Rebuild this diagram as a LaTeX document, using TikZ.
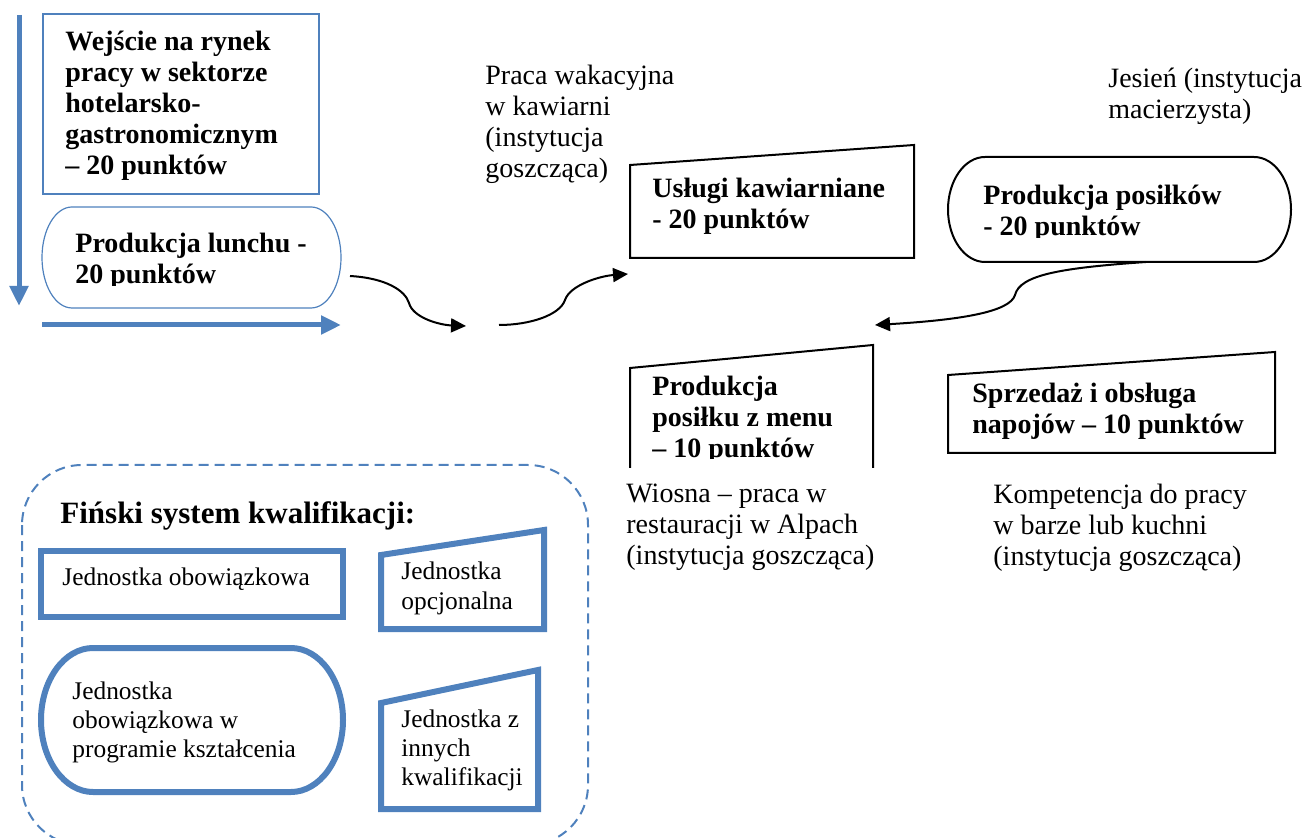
\documentclass[tikz,border=0pt]{standalone}
\usepackage{fontspec}
\setmainfont{Liberation Serif}
\usetikzlibrary{arrows.meta,positioning}
\definecolor{unitblue}{HTML}{4F81BD}

\begin{document}
\begin{tikzpicture}[x=0.5pt,y=-0.5pt,>={Triangle[length=7.5pt,width=7pt]},
			txt/.style = {anchor=north west, align=left, inner sep=0pt, font=\fontsize{14}{15.5}\selectfont},
			hdr/.style = {txt, font=\fontsize{14}{15.5}\selectfont\bfseries},
			unittxt/.style = {txt, font=\fontsize{12.7}{14.5}\selectfont},
			link/.style = {->, line width=1pt},
			flow/.style = {-{Triangle[length=10pt,width=9pt]}, draw=unitblue, line width=2.5pt},
			quad/.style = {draw, line width=1pt, line join=miter},
			unitquad/.style = {draw=unitblue, line width=3pt, line join=miter}
			]
			\useasboundingbox (0,0) rectangle (1304,838);
			% upper left: entry into the labour market
			\coordinate (vtop) at (19,15);
			\coordinate (vbot) at (19,306);
			\coordinate (hleft) at (42,325);
			\coordinate (hright) at (341,325);
			\draw[flow] (vtop) -- (vbot);
			\draw[flow] (hleft) -- (hright);
			\node [draw=unitblue, line width=0.6pt, minimum width=138pt, minimum height=90pt, inner sep=0pt] (entry) at (181,104) {};
			\node [hdr] (entrytext) at (65,31) {Wejście na rynek\\pracy w sektorze\\hotelarsko-\\gastronomicznym\\– 20 punktów};
			\draw[unitblue, line width=0.6pt] (72,207) -- (311,207) arc[start angle=90, end angle=-90, x radius=15pt, y radius=25.25pt]
				-- (72,308) arc[start angle=270, end angle=90, x radius=15pt, y radius=25.25pt] -- cycle;
			\begin{scope}
				\clip (0,0) rectangle (1304,286);
				\node [hdr] (lunch) at (75,233) {Produkcja lunchu -\\20 punktów};
			\end{scope}
			% cafe
			\node [txt] (cafenote) at (485,65) {Praca wakacyjna\\w kawiarni\\(instytucja\\goszcząca)};
			\draw[quad] (630,165) -- (914,145) -- (914,258) -- (630,258) -- cycle;
			\node [hdr] (cafe) at (652,178) {Usługi kawiarniane\\- 20 punktów};
			% autumn
			\node [txt] (autumnnote) at (1108,68) {Jesień (instytucja\\macierzysta)};
			\draw[line width=1pt] (985,157) -- (1254,157) arc[start angle=90, end angle=-90, x radius=18.5pt, y radius=26.25pt]
				-- (985,262) arc[start angle=270, end angle=90, x radius=18.5pt, y radius=26.25pt] -- cycle;
			\begin{scope}
				\clip (0,0) rectangle (1304,238);
				\node [hdr] (meals) at (983,185) {Produkcja posiłków\\- 20 punktów};
			\end{scope}
			% spring
			\draw[quad] (630,468) -- (630,368) -- (873,345) -- (873,468);
			\begin{scope}
				\clip (0,0) rectangle (1304,459);
				\node [hdr] (menu) at (652,376) {Produkcja\\posiłku z menu\\– 10 punktów};
			\end{scope}
			\draw[quad] (948,375) -- (1275,352) -- (1275,453) -- (948,453) -- cycle;
			\node [hdr] (drinks) at (972,383) {Sprzedaż i obsługa\\napojów – 10 punktów};
			\node [txt] (springnote) at (626,484) {Wiosna – praca w\\restauracji w Alpach\\(instytucja goszcząca)};
			\node [txt] (barnote) at (993,484) {Kompetencja do pracy\\w barze lub kuchni\\(instytucja goszcząca)};
			% connectors
			\coordinate (c1a) at (350,276);
			\coordinate (c1b) at (466,326);
			\coordinate (c2a) at (499,325);
			\coordinate (c2b) at (628,274);
			\coordinate (c3a) at (1146,262);
			\coordinate (c3b) at (875,325);
			\draw[link] (c1a) .. controls (385,278) and (405,290) .. (409,303) .. controls (413,318) and (440,325) .. (c1b);
			\draw[link] (c2a) .. controls (530,325) and (560,315) .. (565,300) .. controls (570,285) and (600,276) .. (c2b);
			\draw[link] (c3a) .. controls (1060,268) and (1020,275) .. (1015,295) .. controls (1010,312) and (960,320) .. (c3b);
			% legend
			\draw[unitblue, line width=1pt, dash pattern=on 5pt off 3pt, rounded corners=30pt] (22,465) rectangle (588,845);
			\node [txt, font=\fontsize{15.5}{18}\selectfont\bfseries] (legend) at (60,501) {Fiński system kwalifikacji:};
			\node [draw=unitblue, line width=3pt, minimum width=151pt, minimum height=33pt, inner sep=0pt] (mandatory) at (192,584) {};
			\node [unittxt] (mandatorytext) at (62,567) {Jednostka obowiązkowa};
			\draw[unitquad] (381,555) -- (544,530) -- (544,629) -- (381,629) -- cycle;
			\node [unittxt, font=\fontsize{12.7}{15}\selectfont] (optional) at (401,561) {Jednostka\\opcjonalna};
			\draw[unitblue, line width=3pt] (93,648) -- (291,648) arc[start angle=90, end angle=-90, x radius=26pt, y radius=36pt]
				-- (93,792) arc[start angle=270, end angle=90, x radius=26pt, y radius=36pt] -- cycle;
			\node [unittxt] (curriculum) at (72,681) {Jednostka\\obowiązkowa w\\programie kształcenia};
			\draw[unitquad] (381,703) -- (538,670) -- (538,809) -- (381,809) -- cycle;
			\node [unittxt] (other) at (401,709) {Jednostka z\\innych\\kwalifikacji};
		\end{tikzpicture}
\end{document}
